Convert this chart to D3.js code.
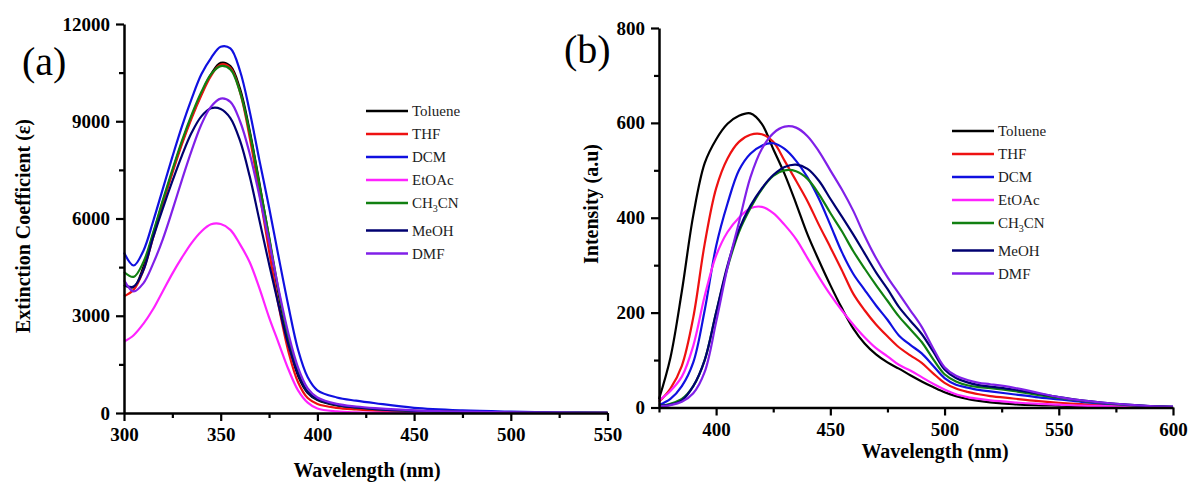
<!DOCTYPE html>
<html>
<head>
<meta charset="utf-8">
<script src="https://cdn.jsdelivr.net/npm/d3@7"></script>
<style>
  body { margin: 0; background: #fff; }
  text { font-family: "Liberation Serif", "Times New Roman", serif; }
</style>
</head>
<body>
<svg id="chart" width="1192" height="483"></svg>
<script>
// solvents, shared by both panels
var solvents = ["Toluene", "THF", "DCM", "EtOAc", "CH3CN", "MeOH", "DMF"];
var colors = ["#000000", "#ee1111", "#1010e0", "#ff22ff", "#118011", "#000070", "#8020e8"];

// (a) absorption, extinction coefficient vs wavelength
var absWavelength = [300,305,310,315,320,325,330,335,340,345,350,355,360,365,370,375,380,385,390,395,400,410,420,430,450,475,500,525,550];
var absToluene = [3950,3880,4500,5500,6500,7450,8350,9150,9850,10450,10800,10700,10000,8700,7100,5400,3650,2200,1150,620,400,230,160,110,60,30,15,8,5];
var absTHF     = [3600,3800,4400,5400,6450,7400,8300,9100,9800,10400,10750,10650,9900,8500,6800,5000,3300,1900,950,460,280,160,110,75,40,20,10,5,3];
var absDCM     = [4950,4550,5000,5900,6900,7900,8850,9700,10450,10950,11300,11250,10550,9300,7800,6350,4800,3300,1950,1100,700,480,380,300,160,80,40,15,5];
var absEtOAc   = [2200,2400,2750,3200,3750,4300,4800,5250,5600,5820,5830,5650,5200,4650,3850,2950,2150,1350,700,320,140,50,20,10,5,2,0,0,0];
var absCH3CN   = [4350,4200,4650,5550,6550,7500,8400,9200,9900,10450,10700,10600,9900,8650,7050,5450,3750,2300,1250,650,420,250,170,120,65,30,15,8,4];
var absMeOH    = [3950,3900,4400,5400,6300,7150,7950,8650,9150,9400,9380,9100,8400,7300,5950,4600,3300,2100,1200,650,420,250,170,120,65,30,15,8,4];
var absDMF     = [4100,3750,4000,4600,5350,6250,7200,8100,8900,9450,9700,9600,9000,8000,6700,5300,3800,2450,1400,760,480,280,200,150,80,40,20,10,5];

// (b) emission intensity vs wavelength
var emWavelength = [375,380,385,390,395,400,405,410,415,420,425,430,435,440,445,450,455,460,465,470,475,480,485,490,495,500,505,510,515,520,530,540,550,560,570,580,590,600];
var emToluene = [18,105,245,405,515,565,598,615,620,598,545,492,430,365,310,258,210,167,135,112,95,82,68,55,43,32,24,18,14,11,7,5,4,3,2,1,1,0];
var emTHF     = [12,40,88,190,345,462,525,560,575,576,560,520,478,435,385,338,290,240,205,175,150,127,110,94,72,52,40,33,28,24,19,14,10,7,5,3,2,1];
var emDCM     = [5,18,45,95,205,340,430,500,535,552,557,545,520,485,440,385,328,282,248,215,185,152,132,114,88,62,48,42,37,34,28,22,17,12,8,5,3,1];
var emEtOAc   = [15,35,65,130,235,320,370,400,420,423,410,385,355,315,275,238,205,175,148,125,108,90,78,64,50,38,28,22,18,15,11,8,6,4,3,2,1,0];
var emCH3CN   = [3,8,18,45,100,200,295,370,420,460,488,500,498,482,450,410,372,330,293,258,225,192,165,138,102,70,55,47,43,41,35,27,20,14,9,5,3,1];
var emMeOH    = [3,6,15,45,100,200,300,375,425,462,490,507,512,503,478,440,403,365,325,285,250,212,183,155,118,80,62,53,47,44,38,30,22,15,10,6,3,2];
var emDMF     = [2,5,12,30,75,180,295,390,485,545,578,592,590,572,540,500,460,415,362,315,275,240,205,170,125,85,67,58,52,49,42,32,22,15,10,6,3,2];

var absTicksX = [300,350,400,450,500,550], absMinorX = [325,375,425,475,525];
var absTicksY = [0,3000,6000,9000,12000], absMinorY = [1500,4500,7500,10500];
var emTicksX = [400,450,500,550,600], emMinorX = [375,425,475,525,575];
var emTicksY = [0,200,400,600,800], emMinorY = [100,300,500,700];

var serif = "'Liberation Serif','Times New Roman',serif";

var svg = d3.select("#chart");
svg.append("rect").attr("width", 1192).attr("height", 483).attr("fill", "#fff");

function styleAxis(sel) {
    sel.select(".domain").attr("stroke", "#000").attr("stroke-width", 2.5);
    sel.selectAll(".tick line").attr("stroke", "#000").attr("stroke-width", 2.2);
    sel.selectAll(".tick text")
        .attr("fill", "#000")
        .style("font-size", "19px")
        .style("font-weight", "bold")
        .style("font-family", serif);
}

function panel(p) {
    var x = d3.scaleLinear().domain(p.xDomain).range([p.left, p.right]);
    var y = d3.scaleLinear().domain(p.yDomain).range([p.bottom, p.top]);
    var g = svg.append("g");

    var line = d3.line()
        .x(function(d) { return x(d[0]); })
        .y(function(d) { return y(d[1]); })
        .curve(d3.curveCatmullRom.alpha(0.5));

    p.series.forEach(function(s, i) {
        var pts = p.wl.map(function(w, j) { return [w, s[j]]; });
        g.append("path")
            .attr("d", line(pts))
            .attr("fill", "none")
            .attr("stroke", colors[i])
            .attr("stroke-width", 2.2)
            .attr("stroke-linejoin", "round");
    });

    // minor ticks
    g.append("g")
        .attr("transform", "translate(0," + p.bottom + ")")
        .call(d3.axisBottom(x).tickValues(p.minorX).tickSize(5).tickFormat(""))
        .call(styleAxis)
        .select(".domain").remove();
    g.append("g")
        .attr("transform", "translate(" + p.left + ",0)")
        .call(d3.axisLeft(y).tickValues(p.minorY).tickSize(5).tickFormat(""))
        .call(styleAxis)
        .select(".domain").remove();

    g.append("g")
        .attr("transform", "translate(0," + p.bottom + ")")
        .call(d3.axisBottom(x).tickValues(p.ticksX).tickSize(8).tickSizeOuter(0).tickPadding(7).tickFormat(d3.format("d")))
        .call(styleAxis);
    g.append("g")
        .attr("transform", "translate(" + p.left + ",0)")
        .call(d3.axisLeft(y).tickValues(p.ticksY).tickSize(8).tickSizeOuter(0).tickPadding(6).tickFormat(d3.format("d")))
        .call(styleAxis);

    // axis titles
    g.append("text")
        .attr("x", p.xTitle[0]).attr("y", p.xTitle[1])
        .attr("text-anchor", "middle")
        .style("font-family", serif)
        .style("font-size", "20px").style("font-weight", "bold")
        .text("Wavelength (nm)");
    g.append("text")
        .attr("transform", "translate(" + p.yTitle[0] + "," + p.yTitle[1] + ") rotate(-90)")
        .attr("text-anchor", "middle")
        .style("font-family", serif)
        .style("font-size", "20px").style("font-weight", "bold")
        .text(p.yLabel);

    // panel letter
    g.append("text")
        .attr("x", p.letterPos[0]).attr("y", p.letterPos[1])
        .style("font-family", serif)
        .style("font-size", "40px")
        .text(p.letter);

    // legend
    var lg = g.append("g").attr("transform", "translate(" + p.legend[0] + "," + p.legend[1] + ")");
    solvents.forEach(function(name, i) {
        var ly = i * 23 + (i > 4 ? 4.5 : 0);
        lg.append("line")
            .attr("x1", 0).attr("x2", 42)
            .attr("y1", ly).attr("y2", ly)
            .attr("stroke", colors[i]).attr("stroke-width", 2.6);
        var t = lg.append("text")
            .attr("x", 46).attr("y", ly + 5)
            .style("font-family", serif)
            .style("font-weight", "normal")
            .style("font-size", "15px")
            .attr("fill", "#222");
        if (name === "CH3CN") {
            t.append("tspan").text("CH");
            t.append("tspan").attr("dy", 4).style("font-size", "10px").text("3");
            t.append("tspan").attr("dy", -4).text("CN");
        } else {
            t.text(name);
        }
    });
}

panel({
    wl: absWavelength,
    series: [absToluene, absTHF, absDCM, absEtOAc, absCH3CN, absMeOH, absDMF],
    xDomain: [300, 550], yDomain: [0, 12000],
    left: 124, right: 607.5, top: 24, bottom: 413,
    ticksX: absTicksX, minorX: absMinorX, ticksY: absTicksY, minorY: absMinorY,
    xTitle: [367, 477], yTitle: [30, 226],
    yLabel: "Extinction Coefficient (\u03b5)",
    letter: "(a)", letterPos: [22, 75],
    legend: [366, 111]
});

panel({
    wl: emWavelength,
    series: [emToluene, emTHF, emDCM, emEtOAc, emCH3CN, emMeOH, emDMF],
    xDomain: [375, 600], yDomain: [0, 800],
    left: 659, right: 1173, top: 28, bottom: 407.5,
    ticksX: emTicksX, minorX: emMinorX, ticksY: emTicksY, minorY: emMinorY,
    xTitle: [935, 458], yTitle: [598, 204],
    yLabel: "Intensity (a.u)",
    letter: "(b)", letterPos: [564, 63],
    legend: [952, 131]
});
</script>
</body>
</html>
